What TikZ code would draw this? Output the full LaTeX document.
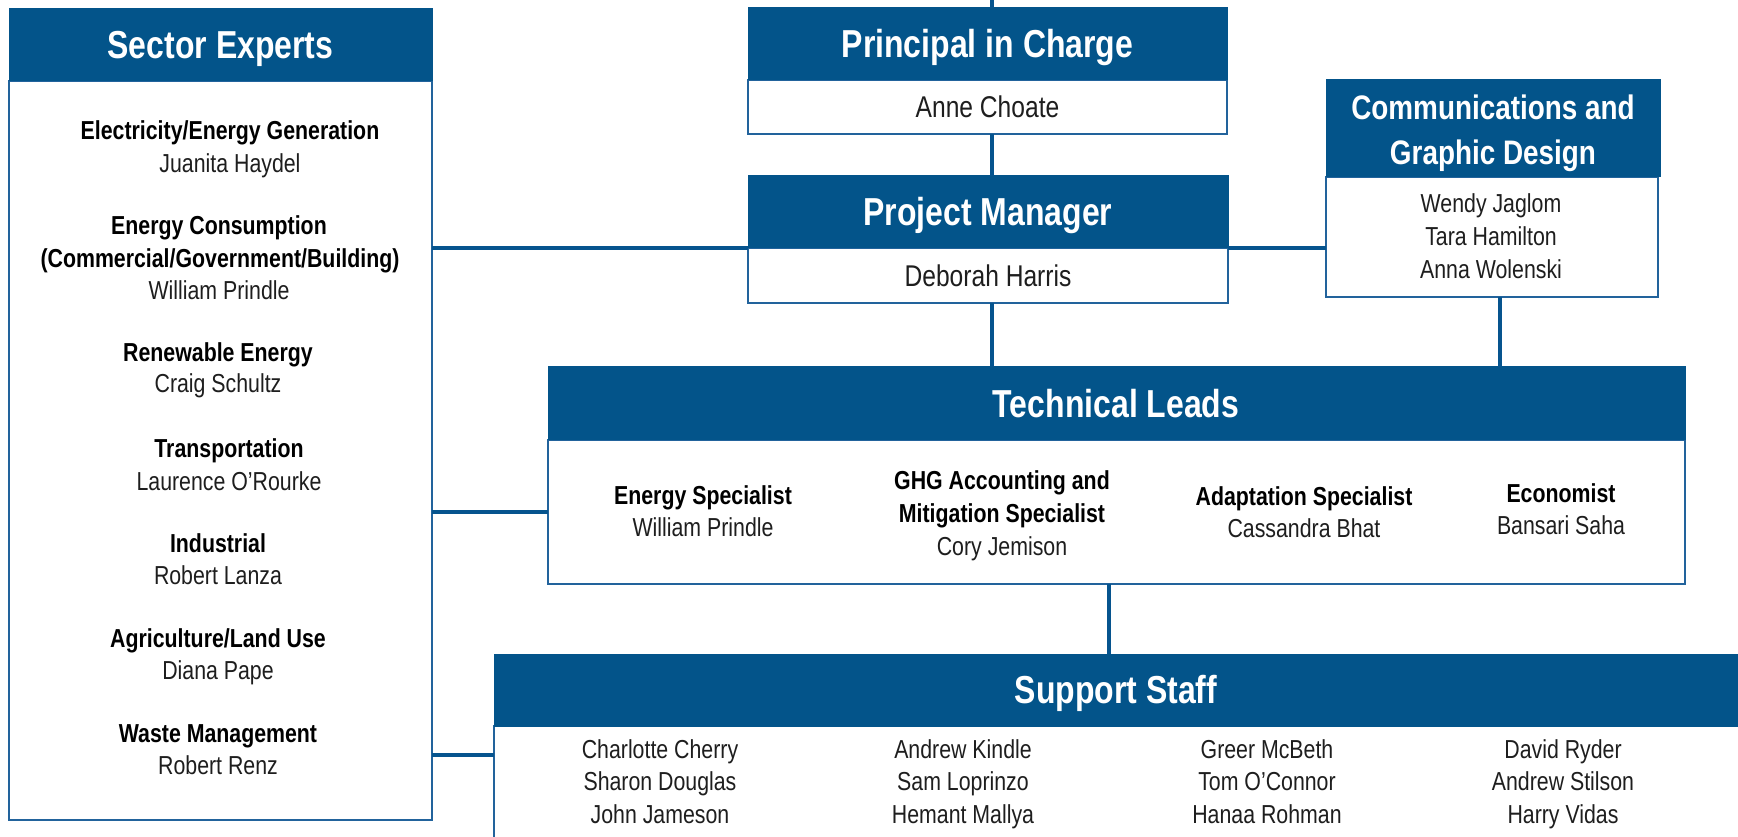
\documentclass[tikz,border=0pt]{standalone}
\usepackage{fontspec}
\setmainfont{Liberation Sans}[FakeStretch=0.82]
\usetikzlibrary{fit}
\definecolor{hdrblue}{HTML}{03548A}
\definecolor{edgeblue}{HTML}{22639C}
\definecolor{linkblue}{HTML}{06548E}
\definecolor{nametext}{HTML}{1E1E1E}
\begin{document}
\begin{tikzpicture}[x=0.75pt,y=-0.75pt,
  hdr/.style={fill=hdrblue, draw=hdrblue, line width=0.75pt, inner sep=0pt, outer sep=0pt},
  bodybox/.style={fill=white, draw=edgeblue, line width=1.4pt, inner sep=0pt, outer sep=0pt},
  link/.style={draw=linkblue, line width=3pt},
  htxt/.style={anchor=base, inner sep=0pt, text=white, font=\bfseries\fontsize{29.25}{34}\selectfont},
  ctxt/.style={anchor=base, inner sep=0pt, text=white, font=\bfseries\fontsize{25.5}{30}\selectfont},
  ttl/.style={anchor=base, inner sep=0pt, text=black, font=\bfseries\fontsize{19.5}{23}\selectfont},
  nm/.style={anchor=base, inner sep=0pt, text=nametext, font=\fontsize{19.5}{23}\selectfont},
  nmbig/.style={anchor=base, inner sep=0pt, text=nametext, font=\fontsize{22.5}{26}\selectfont}
]
\useasboundingbox (0,0) rectangle (1738,837);
\clip (0,0) rectangle (1738,837);
\fill[white] (0,0) rectangle (1738,837);

% boxes
\node[bodybox, fit={(9,81) (432,820)}] (sec_b) {};
\node[hdr, fit={(9,9) (432,81)}] (sec_h) {};
\node[bodybox, fit={(748,80) (1227,134)}] (pic_b) {};
\node[hdr, fit={(748,8) (1227,80)}] (pic_h) {};
\node[bodybox, fit={(748,248) (1228,303)}] (pm_b) {};
\node[hdr, fit={(748,176) (1228,248)}] (pm_h) {};
\node[bodybox, fit={(1326,177) (1658,297)}] (com_b) {};
\node[hdr, fit={(1326,80) (1660,177)}] (com_h) {};
\node[bodybox, fit={(548,440) (1685,584)}] (tl_b) {};
\node[hdr, fit={(548,367) (1685,440)}] (tl_h) {};
\node[bodybox, fit={(494,726) (1760,870)}] (ss_b) {};
\node[hdr, fit={(494,654) (1760,726)}] (ss_h) {};

% connectors
\coordinate (topend) at (992,-5);
\coordinate (ssjoin) at (494,755);
\draw[link] (topend) -- (topend |- pic_h.north);
\draw[link] (pic_b.south -| topend) -- (pm_h.north -| topend);
\draw[link] (pm_b.south -| topend) -- (tl_h.north -| topend);
\draw[link] (sec_b.east |- pm_h.south west) -- (pm_h.south west);
\draw[link] (pm_h.south east) -- (com_b.west |- pm_h.south east);
\draw[link] ([xshift=6pt]com_b.south) -- ([xshift=6pt]com_b.south |- tl_h.north);
\draw[link] (sec_b.east |- tl_b.west) -- (tl_b.west);
\draw[link] (sec_b.east |- ssjoin) -- (ssjoin);
\draw[link] ([xshift=-6pt]tl_b.south) -- ([xshift=-6pt]tl_b.south |- ss_h.north);

% header titles
\node[htxt] (sec_t) at (220.5,59) {Sector Experts};
\node[htxt] (pic_t) at (987.5,58) {Principal in Charge};
\node[nmbig] (pic_n) at (987.5,117.7) {Anne Choate};
\node[htxt] (pm_t) at (988,226) {Project Manager};
\node[nmbig] (pm_n) at (988,287) {Deborah Harris};
\node[ctxt] (com_t1) at (1493,119.2) {Communications and};
\node[ctxt] (com_t2) at (1493,164.2) {Graphic Design};
\node[htxt] (tl_t) at (1116,418) {Technical Leads};
\node[htxt] (ss_t) at (1116,703) {Support Staff};

% communications names
\node[nm] (com_n1) at (1491,212.3) {Wendy Jaglom};
\node[nm] (com_n2) at (1491,245.3) {Tara Hamilton};
\node[nm] (com_n3) at (1491,278.3) {Anna Wolenski};

% sector experts
\node[ttl] (se1) at (230,139.3) {Electricity/Energy Generation};
\node[nm] (se2) at (230,172.3) {Juanita Haydel};
\node[ttl] (se3) at (219,234.3) {Energy Consumption};
\node[ttl] (se4) at (220,267.3) {(Commercial/Government/Building)};
\node[nm] (se5) at (219,299.3) {William Prindle};
\node[ttl] (se6) at (218,361.3) {Renewable Energy};
\node[nm] (se7) at (218,392.3) {Craig Schultz};
\node[ttl] (se8) at (229,457.3) {Transportation};
\node[nm] (se9) at (229,490.3) {Laurence O’Rourke};
\node[ttl] (se10) at (218,552.3) {Industrial};
\node[nm] (se11) at (218,584.3) {Robert Lanza};
\node[ttl] (se12) at (218,647.3) {Agriculture/Land Use};
\node[nm] (se13) at (218,679.3) {Diana Pape};
\node[ttl] (se14) at (218,742.3) {Waste Management};
\node[nm] (se15) at (218,774.3) {Robert Renz};

% technical leads
\node[ttl] (tl1a) at (703,504.3) {Energy Specialist};
\node[nm] (tl1b) at (703,536.3) {William Prindle};
\node[ttl] (tl2a) at (1002,489.3) {GHG Accounting and};
\node[ttl] (tl2b) at (1002,522.3) {Mitigation Specialist};
\node[nm] (tl2c) at (1002,555.3) {Cory Jemison};
\node[ttl] (tl3a) at (1304,505.3) {Adaptation Specialist};
\node[nm] (tl3b) at (1304,537.3) {Cassandra Bhat};
\node[ttl] (tl4a) at (1561,502.3) {Economist};
\node[nm] (tl4b) at (1561,534.3) {Bansari Saha};

% support staff
\node[nm] (ss11) at (660,758.3) {Charlotte Cherry};
\node[nm] (ss12) at (660,790.3) {Sharon Douglas};
\node[nm] (ss13) at (660,823.3) {John Jameson};
\node[nm] (ss21) at (963,758.3) {Andrew Kindle};
\node[nm] (ss22) at (963,790.3) {Sam Loprinzo};
\node[nm] (ss23) at (963,823.3) {Hemant Mallya};
\node[nm] (ss31) at (1267,758.3) {Greer McBeth};
\node[nm] (ss32) at (1267,790.3) {Tom O’Connor};
\node[nm] (ss33) at (1267,823.3) {Hanaa Rohman};
\node[nm] (ss41) at (1563,758.3) {David Ryder};
\node[nm] (ss42) at (1563,790.3) {Andrew Stilson};
\node[nm] (ss43) at (1563,823.3) {Harry Vidas};
\end{tikzpicture}
\end{document}
